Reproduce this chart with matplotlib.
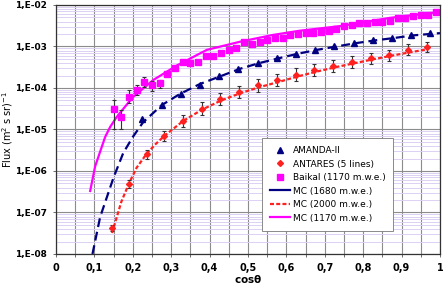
# -*- coding: utf-8 -*-
import numpy as np
import matplotlib
matplotlib.use('Agg')
import matplotlib.pyplot as plt
from matplotlib.lines import Line2D
from matplotlib.ticker import FixedLocator, LogLocator, NullFormatter

### data
amanda_x = [0.225, 0.275, 0.325, 0.375, 0.425, 0.475, 0.525, 0.575,
            0.625, 0.675, 0.725, 0.775, 0.825, 0.875, 0.925, 0.975]
amanda_y = [1.8e-5, 3.8e-5, 7.0e-5, 1.2e-4, 1.9e-4, 2.8e-4, 3.9e-4, 5.2e-4,
            6.6e-4, 8.3e-4, 1.0e-3, 1.2e-3, 1.4e-3, 1.6e-3, 1.85e-3, 2.1e-3]

antares_x = [0.146, 0.19, 0.236, 0.282, 0.331, 0.38, 0.427, 0.476, 0.525,
             0.575, 0.625, 0.672, 0.721, 0.771, 0.82, 0.867, 0.917, 0.966]
antares_y = [4.2e-8, 4.9e-7, 2.5e-6, 6.8e-6, 1.6e-5, 3.2e-5, 5.5e-5, 8.1e-5,
             1.15e-4, 1.55e-4, 2.1e-4, 2.7e-4, 3.4e-4, 4.3e-4, 5.2e-4,
             6.2e-4, 8.3e-4, 9.7e-4]
antares_dex = [0.08, 0.09, 0.1, 0.12, 0.14, 0.15, 0.15, 0.15, 0.15,
               0.15, 0.15, 0.15, 0.14, 0.14, 0.13, 0.13, 0.13, 0.13]

baikal_x = [0.15, 0.17, 0.19, 0.21, 0.23, 0.25, 0.27, 0.29, 0.31, 0.33,
            0.35, 0.37, 0.39, 0.41, 0.43, 0.45, 0.47, 0.49, 0.51, 0.53,
            0.55, 0.57, 0.59, 0.61, 0.63, 0.65, 0.67, 0.69, 0.71, 0.73,
            0.75, 0.77, 0.79, 0.81, 0.83, 0.85, 0.87, 0.89, 0.91, 0.93,
            0.95, 0.97, 0.99]
baikal_y = [3.1e-5, 2.0e-5, 6.0e-5, 9.0e-5, 1.4e-4, 1.2e-4, 1.3e-4, 2.2e-4,
            3.0e-4, 4.3e-4, 4.0e-4, 4.3e-4, 5.8e-4, 6.0e-4, 7.0e-4, 8.3e-4,
            9.2e-4, 1.3e-3, 1.15e-3, 1.3e-3, 1.45e-3, 1.6e-3, 1.6e-3, 1.9e-3,
            2.0e-3, 2.1e-3, 2.1e-3, 2.2e-3, 2.4e-3, 2.6e-3, 3.1e-3, 3.3e-3,
            3.6e-3, 3.6e-3, 3.9e-3, 3.9e-3, 4.1e-3, 4.9e-3, 4.9e-3, 5.4e-3,
            5.7e-3, 5.7e-3, 6.8e-3]
# visible error bars on the first Baikal points (lower, upper bound)
baikal_err_x = [0.15, 0.17, 0.19, 0.21, 0.23, 0.25, 0.27]
baikal_err_lo = [1.0e-5, 1.0e-5, 4.3e-5, 6.8e-5, 1.05e-4, 8.5e-5, 1.0e-4]
baikal_err_hi = [5.0e-5, 3.0e-5, 8.9e-5, 1.2e-4, 1.8e-4, 1.45e-4, 1.6e-4]

mc1680_x = [0.095, 0.115, 0.15, 0.175, 0.2, 0.227, 0.276, 0.323, 0.375,
            0.427, 0.479, 0.53, 0.58, 0.63, 0.68, 0.73, 0.78, 0.83, 0.88,
            0.93, 1.0]
mc1680_y = [1.0e-8, 7.8e-8, 7.0e-7, 2.7e-6, 6.6e-6, 1.5e-5, 3.9e-5, 7.2e-5,
            1.25e-4, 1.9e-4, 2.9e-4, 4.0e-4, 5.2e-4, 6.7e-4, 8.3e-4, 1.0e-3,
            1.2e-3, 1.4e-3, 1.6e-3, 1.85e-3, 2.1e-3]

mc2000_x = [0.146, 0.17, 0.19, 0.21, 0.236, 0.26, 0.282, 0.331, 0.38, 0.43,
            0.48, 0.53, 0.58, 0.63, 0.68, 0.73, 0.78, 0.83, 0.87, 0.92,
            0.966]
mc2000_y = [3.2e-8, 1.8e-7, 5.0e-7, 1.2e-6, 2.6e-6, 4.5e-6, 7.0e-6, 1.6e-5,
            3.0e-5, 5.0e-5, 7.5e-5, 1.05e-4, 1.4e-4, 1.9e-4, 2.5e-4, 3.2e-4,
            4.0e-4, 5.0e-4, 5.9e-4, 7.2e-4, 8.5e-4]

mc1170_x = [0.089, 0.102, 0.128, 0.141, 0.158, 0.2, 0.253, 0.315, 0.393,
            0.479, 0.565, 0.635, 0.74, 0.87, 1.0]
mc1170_y = [3.3e-7, 1.3e-6, 6.6e-6, 1.15e-5, 2.0e-5, 6.0e-5, 1.55e-4,
            3.5e-4, 8.3e-4, 1.3e-3, 1.9e-3, 2.4e-3, 3.1e-3, 4.9e-3, 6.8e-3]

xticks = [0, 0.1, 0.2, 0.3, 0.4, 0.5, 0.6, 0.7, 0.8, 0.9, 1.0]
xticklabels = ['0', '0,1', '0,2', '0,3', '0,4', '0,5', '0,6', '0,7',
               '0,8', '0,9', '1']
yticks = [1e-8, 1e-7, 1e-6, 1e-5, 1e-4, 1e-3, 1e-2]
yticklabels = ['1,E-08', '1,E-07', '1,E-06', '1,E-05', '1,E-04',
               '1,E-03', '1,E-02']

navy = '#000080'
red = '#ff2020'
magenta = '#ff00ff'


def main():
    plt.rcParams['font.family'] = ['DejaVu Sans']
    fig = plt.figure(figsize=(4.43, 2.87), dpi=100)
    ax = fig.add_axes([0.1264, 0.115, 0.8668, 0.8676])
    ax.set_yscale('log')
    ax.set_xlim(0, 1)
    ax.set_ylim(1e-8, 1e-2)

    ### grid
    ax.yaxis.set_minor_locator(LogLocator(base=10, subs=np.arange(2, 10)))
    ax.yaxis.set_minor_formatter(NullFormatter())
    ax.xaxis.set_minor_locator(FixedLocator(np.arange(0.05, 1.0, 0.1)))
    ax.grid(True, which='major', axis='both', color='#8c8c8c', lw=0.8)
    ax.grid(True, which='minor', axis='y', color='#dcd0f4', lw=0.7)
    ax.grid(True, which='minor', axis='x', color='#8c8c8c', lw=0.8)
    ax.set_axisbelow(True)

    ### MC curves
    lw = 1.6
    ax.plot(mc1680_x, mc1680_y, c=navy, lw=lw, dashes=(4.0, 2.2))
    ax.plot(mc2000_x, mc2000_y, c=red, lw=lw, dashes=(1.8, 1.0))
    ax.plot(mc1170_x, mc1170_y, c=magenta, lw=lw)

    ### data
    ya = np.array(antares_y)
    dex = np.array(antares_dex)
    ax.errorbar(antares_x, ya, yerr=[ya * (1 - 10**(-dex)), ya * (10**dex - 1)],
                fmt='none', ecolor='#333333', elinewidth=0.8, capsize=1.5,
                capthick=0.8)
    yb = np.array(baikal_y[:len(baikal_err_x)])
    ax.errorbar(baikal_err_x, yb,
                yerr=[yb - np.array(baikal_err_lo),
                      np.array(baikal_err_hi) - yb],
                fmt='none', ecolor='#333333', elinewidth=0.8, capsize=1.5,
                capthick=0.8)
    ax.plot(amanda_x, amanda_y, ls='None', marker='^', ms=3.8, c=navy)
    ax.plot(antares_x, antares_y, ls='None', marker='D', ms=3, c=red)
    ax.plot(baikal_x, baikal_y, ls='None', marker='s', ms=4.5, c=magenta)

    ### axes
    ax.set_xticks(xticks)
    ax.set_xticklabels(xticklabels, fontsize=7, fontweight='bold')
    ax.set_yticks(yticks)
    ax.set_yticklabels(yticklabels, fontsize=6.5, fontweight='bold')
    ax.tick_params(which='both', direction='out', length=2.5, width=0.6,
                   color='#555555', pad=4)
    ax.tick_params(axis='y', which='minor', length=0)
    ax.set_xlabel(r'cos$\mathbf{\theta}$', fontsize=7.5, fontweight='bold',
                  labelpad=0)
    ax.set_ylabel(r'Flux (m$^2$ s sr)$^{-1}$', fontsize=7)
    ax.yaxis.set_label_coords(-0.106, 0.5)
    for sp in ax.spines.values():
        sp.set_color('#333333')
        sp.set_linewidth(0.9)

    ### legend
    handles = [
        Line2D([], [], ls='None', marker='^', ms=3.8, c=navy),
        Line2D([], [], ls='None', marker='D', ms=3, c=red),
        Line2D([], [], ls='None', marker='s', ms=4.5, c=magenta),
        Line2D([], [], c=navy, lw=lw),
        Line2D([], [], c=red, lw=lw, dashes=(1.8, 1.0)),
        Line2D([], [], c=magenta, lw=lw),
    ]
    labels = ['AMANDA-II', 'ANTARES (5 lines)', 'Baikal (1170 m.w.e.)',
              'MC (1680 m.w.e.)', 'MC (2000 m.w.e.)', 'MC (1170 m.w.e.)']
    leg = ax.legend(handles, labels,
                    loc='upper left', bbox_to_anchor=(0.536, 0.466),
                    borderaxespad=0, fontsize=6.5, frameon=True,
                    fancybox=False, edgecolor='#777777', framealpha=1,
                    handlelength=2.2, labelspacing=0.5, borderpad=0.9,
                    handletextpad=0.3)
    leg.get_frame().set_linewidth(0.6)

    fig.savefig('out.png', dpi=100)


if __name__ == '__main__':
    main()
